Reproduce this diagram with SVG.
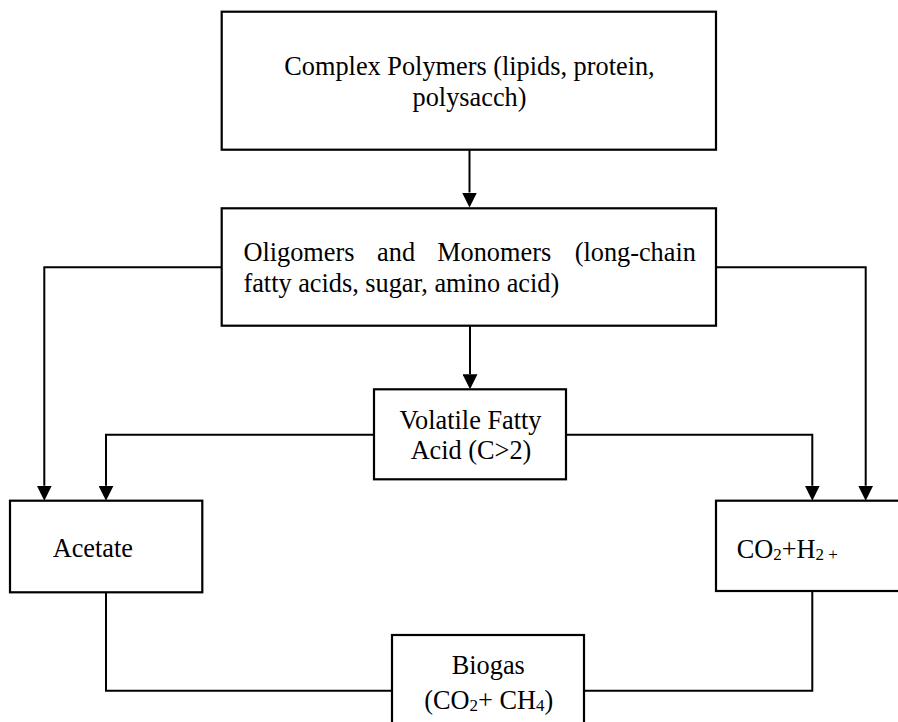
<svg xmlns="http://www.w3.org/2000/svg" width="898" height="722" viewBox="0 0 898 722">
<style>
.box{fill:#fff;stroke:#000;stroke-width:2.2}
.conn{fill:none;stroke:#000;stroke-width:2}
.t{font-family:'Liberation Serif','Times New Roman','DejaVu Serif',serif;font-size:26.3px;fill:#000}
.c{text-anchor:middle}
.sub{font-size:17px}
</style>
<defs>
<marker id="arr" markerUnits="userSpaceOnUse" markerWidth="15" markerHeight="15" viewBox="0 0 15 15" refX="0" refY="7.5" orient="auto">
<path d="M0,0 L15,7.5 L0,15 z" fill="#000"/>
</marker>
</defs>
<g id="connectors">
<path class="conn" d="M469.5,149.7 V192.5" marker-end="url(#arr)"/>
<path class="conn" d="M470,325.7 V374.3" marker-end="url(#arr)"/>
<path class="conn" d="M221.7,267.3 H44.3 V485.7" marker-end="url(#arr)"/>
<path class="conn" d="M716,267.3 H865.7 V485.7" marker-end="url(#arr)"/>
<path class="conn" d="M374,434.7 H106 V485.7" marker-end="url(#arr)"/>
<path class="conn" d="M566,434.7 H812.3 V485.7" marker-end="url(#arr)"/>
<path class="conn" d="M106,592.3 V690.7 H392"/>
<path class="conn" d="M812.3,591 V690.7 H584"/>
</g>
<g id="complex-polymers" class="t" font-family="Liberation Serif, serif">
<rect class="box" x="221.7" y="11.7" width="494.3" height="138"/>
<text class="c" x="469.5" y="75">Complex Polymers (lipids, protein,</text>
<text class="c" x="469.5" y="106">polysacch)</text>
</g>
<g id="oligomers" class="t" font-family="Liberation Serif, serif">
<rect class="box" x="221.7" y="208.3" width="494.3" height="117.4"/>
<text x="243.4" y="260.5">Oligomers</text>
<text x="377.1" y="260.5">and</text>
<text x="437.2" y="260.5">Monomers</text>
<text x="695.9" y="260.5" text-anchor="end">(long-chain</text>
<text x="243.4" y="292">fatty acids, sugar, amino acid)</text>
</g>
<g id="vfa" class="t" font-family="Liberation Serif, serif">
<rect class="box" x="374" y="389.3" width="192" height="90"/>
<text class="c" x="470.5" y="429.3">Volatile Fatty</text>
<text class="c" x="471" y="459.3">Acid (C&gt;2)</text>
</g>
<g id="acetate" class="t" font-family="Liberation Serif, serif">
<rect class="box" x="10" y="500.7" width="192.3" height="91.6"/>
<text x="52.7" y="557.3">Acetate</text>
</g>
<g id="co2h2" class="t" font-family="Liberation Serif, serif">
<rect class="box" x="716" y="500.7" width="200" height="90.3"/>
<text x="736.7" y="558.3">CO<tspan class="sub" dy="2">2</tspan><tspan dy="-2">+H</tspan><tspan class="sub" dy="2">2 +</tspan></text>
</g>
<g id="biogas" class="t" font-family="Liberation Serif, serif">
<rect class="box" x="392" y="635" width="192" height="100"/>
<text class="c" x="488.3" y="674">Biogas</text>
<text class="c" x="488.7" y="709">(CO<tspan class="sub" dy="2">2</tspan><tspan dy="-2">+ CH</tspan><tspan class="sub" dy="2">4</tspan><tspan dy="-2">)</tspan></text>
</g>
</svg>
